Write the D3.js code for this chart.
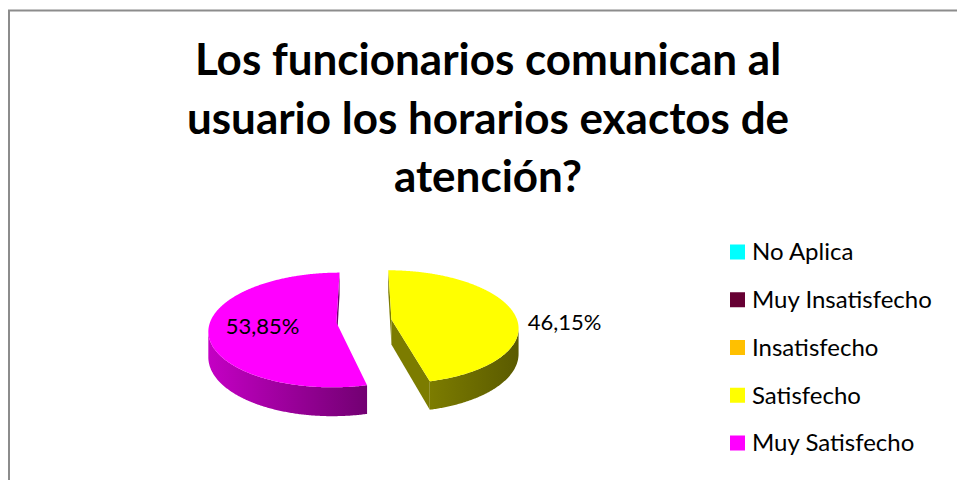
<!DOCTYPE html>
<meta charset="utf-8">
<head>
<script src="https://d3js.org/d3.v7.min.js"></script>
<style>
body { margin: 0; background: #fff; }
text { font-family: Lato, "Open Sans", sans-serif; fill: #000; }
</style>
</head>
<body>
<script>

// Data
var categories = ["No Aplica", "Muy Insatisfecho", "Insatisfecho", "Satisfecho", "Muy Satisfecho"];
var values = [0, 0, 0, 46.15, 53.85];
var valueLabels = ["0,00%", "0,00%", "0,00%", "46,15%", "53,85%"];
var titleLines = ["Los funcionarios comunican al", "usuario los horarios exactos de", "atención?"];

// palette (top face, light side, dark side)
var colors = ["#00FFFF", "#660033", "#FFC000", "#FFFF00", "#FF00FF"];
var sideLight = ["#00a8a8", "#44001f", "#a87e00", "#7c7c00", "#c400c4"];
var sideDark = ["#006060", "#2a0014", "#604800", "#5a5a00", "#720072"];

var W = 957, H = 480;
var svg = d3.select("body").append("svg")
    .attr("width", W)
    .attr("height", H);
var defs = svg.append("defs");

// chart frame
svg.append("rect")
    .attr("x", 9).attr("y", 10.5)
    .attr("width", 1000).attr("height", 500)
    .attr("fill", "none")
    .attr("stroke", "#8c8c8c")
    .attr("stroke-width", 2);

// Title
svg.selectAll(".title")
    .data(titleLines)
    .enter().append("text")
    .attr("class", "title")
    .attr("x", 488)
    .attr("y", function(d, i) { return 75 + i * 58.5; })
    .attr("text-anchor", "middle")
    .style("font-size", "44px")
    .style("font-weight", "bold")
    .text(function(d) { return d; });

// 3D pie settings
var cx = 364, cy = 321, rx = 126, ry = 56, persp = 0.13, depth = 25, explode = 0.22;

function proj(X, Z, down) {
  var p = 1 / (1 + persp * Z);
  return [cx + rx * X * p, cy - ry * Z * p + down * p];
}

function facing(q) {
  var area = 0;
  for (var m = 0; m < q.length; m++) {
    var u = q[m], v = q[(m + 1) % q.length];
    area += u[0] * v[1] - v[0] * u[1];
  }
  return area < -0.01;
}

var pie = d3.pie().sort(null).value(function(d) { return d; })
    .startAngle(0).endAngle(2 * Math.PI);
var arcs = pie(values);
var line = d3.line();

var pieG = svg.append("g");

arcs.forEach(function(d) {
  if (d.value <= 0) return;
  var i = d.index;
  var mid = (d.startAngle + d.endAngle) / 2;
  var ox = explode * Math.sin(mid), oz = explode * Math.cos(mid);
  var shade = d3.interpolateRgb(sideLight[i], sideDark[i]);

  // arc outline in disk coords (X right, Z back)
  var rim = [];
  var n = Math.ceil((d.endAngle - d.startAngle) / (Math.PI / 360));
  for (var k = 0; k <= n; k++) {
    var t = d.startAngle + (d.endAngle - d.startAngle) * k / n;
    rim.push([ox + Math.sin(t), oz + Math.cos(t)]);
  }
  var centre = [ox, oz];

  // radial walls
  [[centre, rim[0]], [rim[rim.length - 1], centre]].forEach(function(e) {
    var a = e[0], b = e[1];
    var q = [proj(a[0], a[1], 0), proj(b[0], b[1], 0), proj(b[0], b[1], depth), proj(a[0], a[1], depth)];
    if (!facing(q)) return;
    var dx = b[0] - a[0], dz = b[1] - a[1];
    var len = Math.sqrt(dx * dx + dz * dz) || 1;
    pieG.append("path")
        .attr("d", line(q) + "Z")
        .attr("fill", shade((-dz / len + 1) / 2));
  });

  // outer wall: visible run of the rim
  var vis = [];
  for (var j = 0; j < rim.length - 1; j++) {
    var a = rim[j], b = rim[j + 1];
    var q = [proj(a[0], a[1], 0), proj(b[0], b[1], 0), proj(b[0], b[1], depth), proj(a[0], a[1], depth)];
    vis.push(facing(q));
  }
  var runs = [], cur = null;
  vis.forEach(function(v, j) {
    if (v) {
      if (!cur) { cur = [j]; runs.push(cur); }
      cur.push(j + 1);
    } else cur = null;
  });
  runs.forEach(function(run, r) {
    var top = run.map(function(j) { return proj(rim[j][0], rim[j][1], 0); });
    var bot = run.map(function(j) { return proj(rim[j][0], rim[j][1], depth); }).reverse();
    var poly = top.concat(bot);
    var ext = d3.extent(poly, function(p) { return p[0]; });
    var gid = "side" + i + "_" + r;
    var g = defs.append("linearGradient")
        .attr("id", gid)
        .attr("gradientUnits", "userSpaceOnUse")
        .attr("x1", ext[0]).attr("x2", ext[1])
        .attr("y1", 0).attr("y2", 0);
    g.append("stop").attr("offset", "0%").attr("stop-color", sideLight[i]);
    g.append("stop").attr("offset", "100%").attr("stop-color", sideDark[i]);
    pieG.append("path")
        .attr("d", line(poly) + "Z")
        .attr("fill", "url(#" + gid + ")");
  });

  // top face
  var face = [centre].concat(rim);
  pieG.append("path")
      .attr("d", line(face.map(function(p) { return proj(p[0], p[1], 0); })) + "Z")
      .attr("fill", colors[i]);
});

// data labels
var labelRadius = { "Satisfecho": 1.4, "Muy Satisfecho": 0.58 };
arcs.forEach(function(d) {
  if (d.value <= 0) return;
  var mid = (d.startAngle + d.endAngle) / 2;
  var r = labelRadius[categories[d.index]];
  var X = (explode + r) * Math.sin(mid), Z = (explode + r) * Math.cos(mid);
  var pt = proj(X, Z, r > 1 ? depth / 2 : 0);
  svg.append("text")
      .attr("x", pt[0] + (r > 1 ? 3 : 0))
      .attr("y", pt[1])
      .attr("dy", "0.35em")
      .attr("text-anchor", "middle")
      .style("font-size", "22px")
      .text(valueLabels[d.index]);
});

// Legend
var ly = d3.scalePoint().domain(categories).range([252, 443]);
var legend = svg.selectAll(".legend")
    .data(categories)
    .enter().append("g")
    .attr("class", "legend")
    .attr("transform", function(d) { return "translate(730," + ly(d) + ")"; });

legend.append("rect")
    .attr("x", 0).attr("y", -7.5)
    .attr("width", 15).attr("height", 15)
    .attr("fill", function(d, i) { return colors[i]; });

legend.append("text")
    .attr("x", 22)
    .attr("y", 0)
    .attr("dy", "0.35em")
    .style("font-size", "24px")
    .text(function(d) { return d; });

</script>
</body>
